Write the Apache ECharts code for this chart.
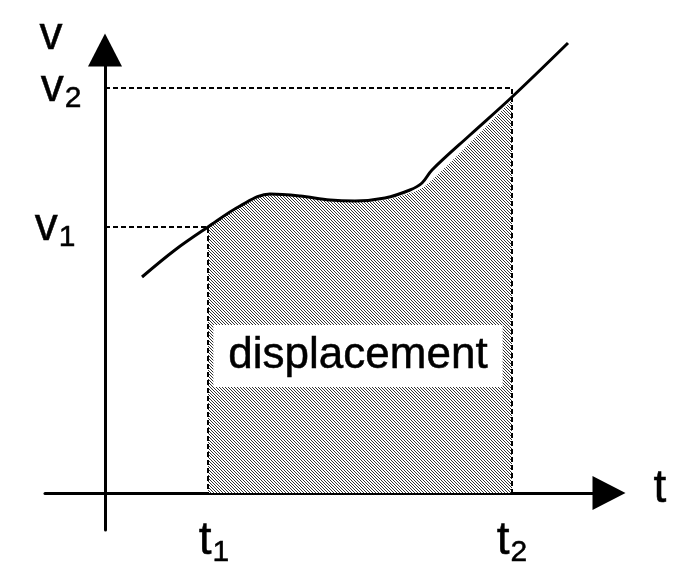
<!DOCTYPE html>
<html>
<head>
<meta charset="utf-8">
<script src="https://cdn.jsdelivr.net/npm/echarts@6/dist/echarts.min.js"></script>
<style>
  html, body { margin: 0; padding: 0; background: #fff; }
  #main { width: 698px; height: 588px; }
</style>
</head>
<body>
<div id="main"></div>
<script>
// v(t) curve
var curveData = [
    [3.7, 21.6], [7.0, 24.3], [10.3, 26.6], [13.5, 28.7], [16.5, 29.9],
    [19.5, 29.7], [22.5, 29.3], [25.0, 29.2], [28.0, 29.5], [30.5, 30.3],
    [31.7, 31.0], [32.7, 32.3], [36.5, 35.8], [40.7, 39.6], [46.3, 45.0]
];
// top edge of the hatched area (sits a bit under the curve on the right)
var areaTop = [
    [10.3, 26.5], [13.5, 28.6], [16.5, 29.8], [19.5, 29.6], [22.5, 29.2],
    [25.0, 29.1], [28.0, 29.3], [30.5, 30.0], [31.7, 30.5], [32.7, 31.3],
    [36.5, 35.0], [40.7, 39.3]
];
var tMarks = [10.3, 40.7];
var vMarks = [26.6, 40.5];
var subs = ['1', '2'];
var areaName = 'displacement';

// hatch pattern
var hatch = document.createElement('canvas');
hatch.width = 3;
hatch.height = 3;
var hctx = hatch.getContext('2d');
hctx.fillStyle = '#fff';
hctx.fillRect(0, 0, 3, 3);
hctx.fillStyle = '#333';
for (var i = 0; i < 3; i++) {
    hctx.fillRect(i, i, 1, 1);
}

var font = 'Liberation Sans';
var ink = { color: '#000', textBorderColor: '#000', textBorderWidth: 0.5, opacity: 1 };
var rich = {
    a: Object.assign({ fontFamily: font, fontSize: 46 }, ink),
    b: Object.assign({ fontFamily: font, fontSize: 30, padding: [22, 0, 0, 1] }, ink)
};

var dashed = { color: '#000', width: 2, type: [5, 3] };

var labelData = [
    { value: [0, vMarks[1]], label: { position: 'left', distance: 23, formatter: '{a|v}{b|' + subs[1] + '}' } },
    { value: [0, vMarks[0]], label: { position: 'left', distance: 29, formatter: '{a|v}{b|' + subs[0] + '}' } },
    { value: [tMarks[0], 0], label: { position: 'bottom', distance: 22, offset: [6, 0], formatter: '{a|t}{b|' + subs[0] + '}' } },
    { value: [tMarks[1], 0], label: { position: 'bottom', distance: 22, formatter: '{a|t}{b|' + subs[1] + '}' } },
    { value: [0, 44.3], label: { position: 'left', distance: 42, offset: [0, -14], formatter: '{a|v}' } },
    { value: [50.4, 0], label: { position: 'right', distance: 44, offset: [0, -4], formatter: '{a|t}' } },
    { value: [25.3, 13.7], label: Object.assign({ position: 'inside', formatter: areaName, fontFamily: font, fontSize: 44,
        backgroundColor: '#fff', padding: [9, 15, 9, 15] }, ink) }
];

var chart = echarts.init(document.getElementById('main'));
var option = {
    animation: false,
    grid: { left: 45, right: 89, top: 50, bottom: 58 },
    xAxis: {
        type: 'value',
        min: -6,
        max: 50.4,
        axisLine: {
            onZero: true,
            symbol: ['none', 'triangle'],
            symbolSize: [34, 33],
            lineStyle: { color: '#000', width: 3 }
        },
        axisTick: { show: false },
        axisLabel: { show: false },
        splitLine: { show: false }
    },
    yAxis: {
        type: 'value',
        min: -3.7,
        max: 44.3,
        axisLine: {
            onZero: true,
            symbol: ['none', 'triangle'],
            symbolSize: [34, 33],
            lineStyle: { color: '#000', width: 3 }
        },
        axisTick: { show: false },
        axisLabel: { show: false },
        splitLine: { show: false }
    },
    series: [
        {
            type: 'line',
            data: areaTop,
            smooth: 0.35,
            symbol: 'none',
            lineStyle: { width: 0 },
            areaStyle: { color: { image: hatch, repeat: 'repeat' }, opacity: 1, origin: 0 },
            z: 1
        },
        {
            type: 'line',
            data: [[0, vMarks[1]], [tMarks[1], vMarks[1]], [tMarks[1], 0]],
            symbol: 'none',
            lineStyle: dashed,
            z: 2
        },
        {
            type: 'line',
            data: [[0, vMarks[0]], [tMarks[0], vMarks[0]], [tMarks[0], 0]],
            symbol: 'none',
            lineStyle: dashed,
            z: 2
        },
        {
            type: 'line',
            data: curveData,
            smooth: 0.35,
            symbol: 'none',
            clip: false,
            lineStyle: { color: '#000', width: 3 },
            z: 3
        },
        {
            type: 'scatter',
            data: labelData,
            symbolSize: 1,
            clip: false,
            itemStyle: { color: 'rgba(0,0,0,0)', opacity: 1 },
            label: { show: true, rich: rich, opacity: 1 },
            z: 4
        }
    ]
};
chart.setOption(option);
</script>
</body>
</html>
